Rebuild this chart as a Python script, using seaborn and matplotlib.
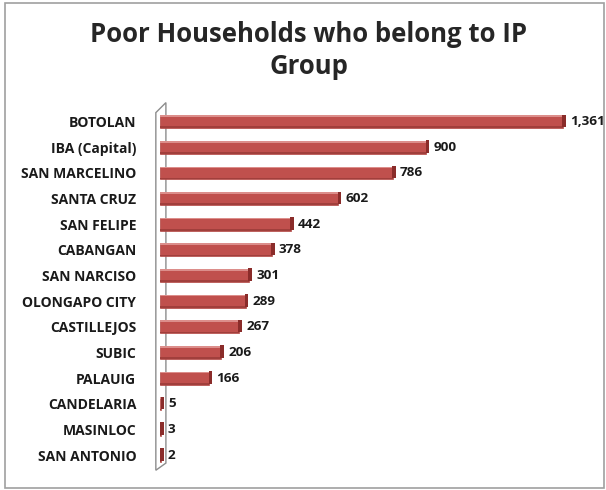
#!/usr/bin/env python3

import pandas as pd
import seaborn as sns
import matplotlib.pyplot as plt
from matplotlib.patches import Polygon, Rectangle

towns = ["BOTOLAN", "IBA (Capital)", "SAN MARCELINO", "SANTA CRUZ", "SAN FELIPE",
         "CABANGAN", "SAN NARCISO", "OLONGAPO CITY", "CASTILLEJOS", "SUBIC",
         "PALAUIG", "CANDELARIA", "MASINLOC", "SAN ANTONIO"]
households = [1361, 900, 786, 602, 442, 378, 301, 289, 267, 206, 166, 5, 3, 2]

df = pd.DataFrame({"town": towns, "households": households})

sns.set_style("white")
plt.rcParams["font.family"] = ["Open Sans", "DejaVu Sans"]

f = plt.figure(figsize=(6.06, 4.9), dpi=100)
ax = f.add_axes([0.264, 0.045, 0.696, 0.733])

n = len(towns)
# side wall at the left, drawn first so the bars sit on top of it
wall = Polygon([(-14, n - 0.41), (20, n - 0.69),
                (20, -0.74), (-14, -0.35)], closed=True, facecolor="white",
               edgecolor="#8C8C8C", lw=1.0, clip_on=False, zorder=1)
ax.add_patch(wall)

sns.barplot(x="households", y="town", data=df, ax=ax, color="#C0504D",
            width=0.5, saturation=1, edgecolor="#B04643", linewidth=0.5,
            zorder=2)

# fake 3d look: dark end cap, light top strip, darker bottom strip
for p in ax.patches[1:]:
    x0, y0 = p.get_x(), p.get_y()
    w, h = p.get_width(), p.get_height()
    ax.add_patch(Rectangle((x0, y0), w, h * 0.13, color="#DC8E8B", lw=0, zorder=3))
    ax.add_patch(Rectangle((x0, y0 + h * 0.87), w, h * 0.13, color="#A13F3C", lw=0, zorder=3))
    ax.add_patch(Rectangle((x0 + w - 2, y0 - h * 0.05), 12, h * 0.98,
                           color="#8A2C2A", lw=0, zorder=3))

for i, v in enumerate(households):
    ax.text(v + 24, i, f"{v:,}", va="center", ha="left", fontsize=9.7,
            fontweight="bold", color="#1a1a1a")

ax.set_xlim(0, 1425)
ax.set_ylim(n - 0.5, -0.5)
ax.set_xlabel("")
ax.set_ylabel("")
ax.set_xticks([])
ax.tick_params(axis="y", length=0, pad=17, labelsize=10)
for lab in ax.get_yticklabels():
    lab.set_fontweight("bold")
    lab.set_color("#1a1a1a")
for s in ax.spines.values():
    s.set_visible(False)

f.text(0.51, 0.897, "Poor Households who belong to IP\nGroup", ha="center",
       va="center", fontsize=18.5, fontweight="bold", linespacing=1.2)

f.add_artist(Rectangle((0.008, 0.004), 0.988, 0.99, transform=f.transFigure,
                       fill=False, edgecolor="#A0A0A0", lw=1.2))

plt.savefig("out.png", dpi=100)
